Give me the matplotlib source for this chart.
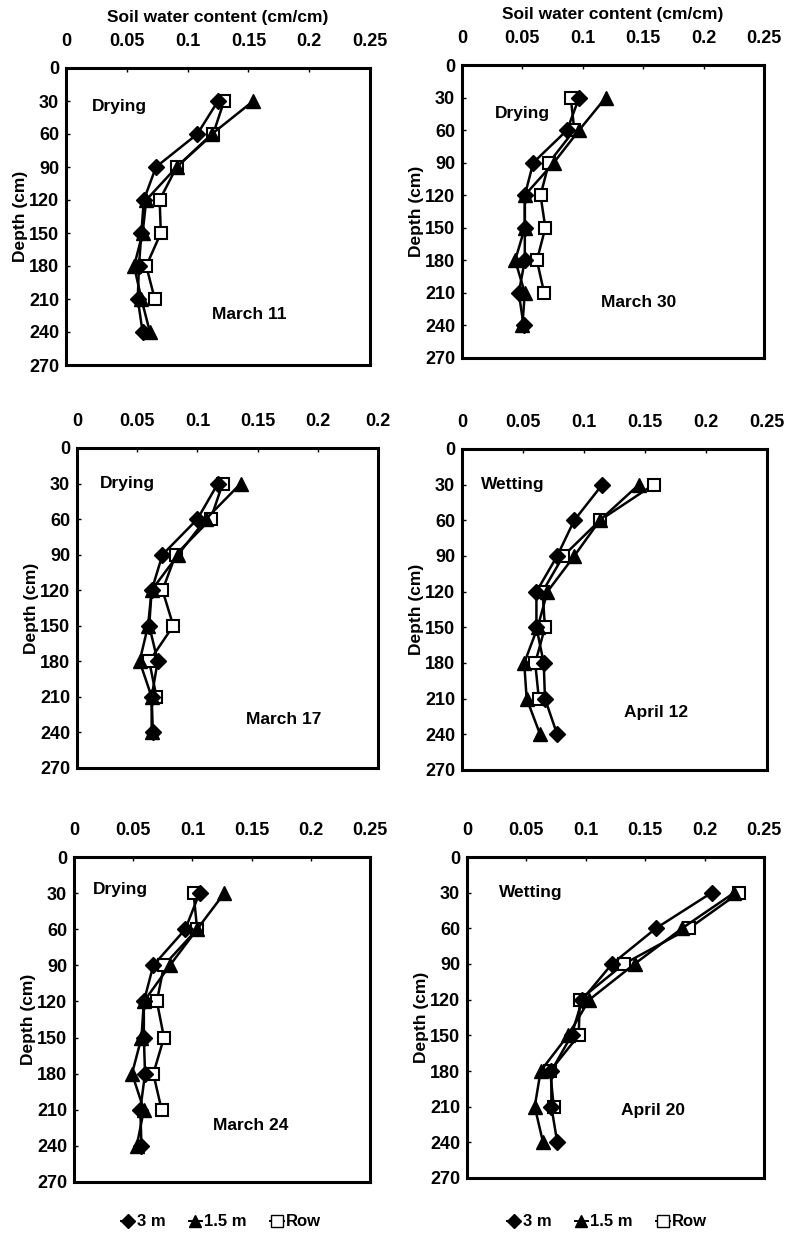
import matplotlib
matplotlib.use('Agg')
import matplotlib.pyplot as plt
from matplotlib.lines import Line2D

plt.rcParams['font.family'] = ['Liberation Sans', 'DejaVu Sans']
plt.rcParams['font.weight'] = 'bold'

# depths (cm) - the Row series stops at 210 cm
depth = [30, 60, 90, 120, 150, 180, 210, 240]
depth_row = [30, 60, 90, 120, 150, 180, 210]

# soil water content (cm/cm)
mar11_3m = [0.125, 0.108, 0.074, 0.064, 0.062, 0.060, 0.059, 0.063]
mar11_15m = [0.154, 0.120, 0.091, 0.066, 0.063, 0.056, 0.062, 0.069]
mar11_row = [0.130, 0.121, 0.091, 0.077, 0.078, 0.066, 0.073]

mar30_3m = [0.097, 0.087, 0.059, 0.052, 0.052, 0.052, 0.047, 0.051]
mar30_15m = [0.119, 0.097, 0.076, 0.052, 0.052, 0.044, 0.052, 0.050]
mar30_row = [0.090, 0.093, 0.072, 0.065, 0.069, 0.062, 0.068]

mar17_3m = [0.117, 0.100, 0.071, 0.062, 0.060, 0.067, 0.062, 0.063]
mar17_15m = [0.136, 0.107, 0.084, 0.062, 0.059, 0.052, 0.062, 0.062]
mar17_row = [0.121, 0.111, 0.082, 0.071, 0.080, 0.060, 0.066]

apr12_3m = [0.115, 0.092, 0.078, 0.061, 0.061, 0.067, 0.068, 0.078]
apr12_15m = [0.145, 0.113, 0.092, 0.070, 0.062, 0.051, 0.053, 0.064]
apr12_row = [0.157, 0.113, 0.083, 0.066, 0.068, 0.060, 0.063]

mar24_3m = [0.106, 0.094, 0.067, 0.059, 0.059, 0.060, 0.056, 0.057]
mar24_15m = [0.127, 0.104, 0.081, 0.059, 0.057, 0.049, 0.059, 0.053]
mar24_row = [0.101, 0.104, 0.076, 0.070, 0.076, 0.067, 0.074]

apr20_3m = [0.206, 0.159, 0.122, 0.097, 0.088, 0.071, 0.071, 0.076]
apr20_15m = [0.225, 0.181, 0.141, 0.103, 0.085, 0.062, 0.057, 0.064]
apr20_row = [0.229, 0.187, 0.132, 0.095, 0.094, 0.070, 0.073]

dates = ['March 11', 'March 30', 'March 17', 'April 12', 'March 24', 'April 20']
phases = ['Drying', 'Drying', 'Drying', 'Wetting', 'Drying', 'Wetting']
x_ticks = [0, 0.05, 0.1, 0.15, 0.2, 0.25]
x_labels = ['0', '0.05', '0.1', '0.15', '0.2', '0.25']
x_labels_mar17 = ['0', '0.05', '0.1', '0.15', '0.2', '0.2']
y_ticks = [0, 30, 60, 90, 120, 150, 180, 210, 240, 270]

series = [
    (mar11_3m, mar11_15m, mar11_row),
    (mar30_3m, mar30_15m, mar30_row),
    (mar17_3m, mar17_15m, mar17_row),
    (apr12_3m, apr12_15m, apr12_row),
    (mar24_3m, mar24_15m, mar24_row),
    (apr20_3m, apr20_15m, apr20_row),
]

W, H = 788, 1243
# panel boxes in pixels: left, top, right, bottom
boxes = [(66, 68, 370, 365), (462, 65, 764, 358),
         (77, 448, 378, 768), (462, 449, 767, 770),
         (74, 857, 370, 1182), (467, 857, 764, 1178)]
# text positions (axes fraction)
phase_pos = [(0.085, 0.87), (0.11, 0.835), (0.076, 0.89),
             (0.062, 0.888), (0.064, 0.90), (0.108, 0.89)]
date_pos = [(0.48, 0.17), (0.46, 0.19), (0.56, 0.15),
            (0.53, 0.18), (0.47, 0.175), (0.52, 0.21)]

fig = plt.figure(figsize=(W / 100, H / 100), dpi=100)

for i, (l, t, r, b) in enumerate(boxes):
    ax = fig.add_axes([l / W, 1 - b / H, (r - l) / W, (b - t) / H])
    s3, s15, srow = series[i]
    ax.plot(srow, depth_row, color='k', lw=1.8, marker='s', ms=9,
            mfc='white', mec='k', mew=1.5, zorder=3)
    ax.plot(s15, depth, color='k', lw=1.8, marker='^', ms=10,
            mfc='k', mec='k', zorder=4)
    ax.plot(s3, depth, color='k', lw=1.8, marker='D', ms=8,
            mfc='k', mec='k', zorder=5)

    ax.set_xlim(0, 0.25)
    ax.set_ylim(270, 0)
    ax.xaxis.tick_top()
    ax.set_xticks(x_ticks)
    ax.set_xticklabels(x_labels_mar17 if i == 2 else x_labels)
    ax.set_yticks(y_ticks)
    ax.tick_params(axis='x', direction='in', length=3, width=1, pad=13,
                   labelsize=13)
    ax.tick_params(axis='y', direction='in', length=3, width=1, pad=5,
                   labelsize=13)
    for sp in ax.spines.values():
        sp.set_linewidth(2.2)

    ax.set_ylabel('Depth (cm)', fontsize=12.5, fontweight='bold', labelpad=1)
    if i < 2:
        ax.set_xlabel('Soil water content (cm/cm)', fontsize=12.5,
                      fontweight='bold', labelpad=8)
        ax.xaxis.set_label_position('top')

    ax.text(phase_pos[i][0], phase_pos[i][1], phases[i], transform=ax.transAxes,
            fontsize=12.5, fontweight='bold', va='center', ha='left')
    ax.text(date_pos[i][0], date_pos[i][1], dates[i], transform=ax.transAxes,
            fontsize=12.5, fontweight='bold', va='center', ha='left')

handles = [
    Line2D([], [], color='k', lw=1.4, marker='D', ms=7, mfc='k'),
    Line2D([], [], color='k', lw=1.4, marker='^', ms=9, mfc='k'),
    Line2D([], [], color='k', lw=1.4, marker='s', ms=8, mfc='white', mec='k'),
]
names = ['3 m', '1.5 m', 'Row']
for cx in (221, 607):
    fig.legend(handles, names, loc='center', bbox_to_anchor=(cx / W, 1 - 1222 / H),
               ncol=3, frameon=False, handlelength=0.8, handletextpad=0.15,
               columnspacing=1.4, prop={'size': 12, 'weight': 'bold'})

fig.savefig('out.png', dpi=100)
